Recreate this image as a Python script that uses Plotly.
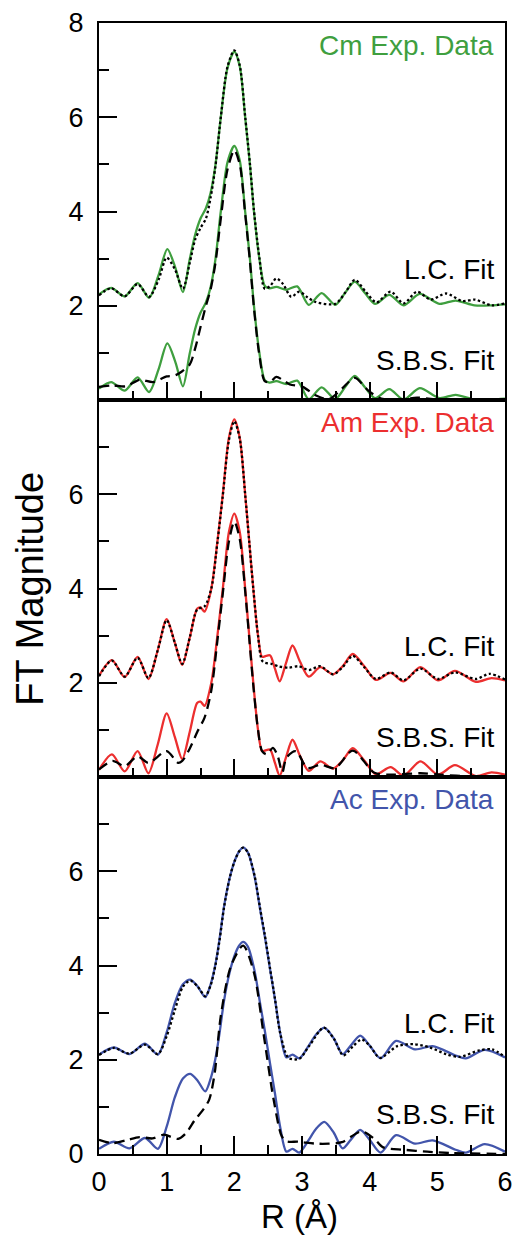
import plotly.graph_objects as go
from plotly.subplots import make_subplots

# ---------------- data (FT magnitude vs R, un-offset values) ----------------
# Cm
cm_r = [0.00, 0.18, 0.38, 0.57, 0.74, 0.88, 1.01, 1.13, 1.24, 1.34, 1.42, 1.50, 1.58, 1.65, 1.72,
        1.80, 1.90, 2.00, 2.08, 2.16, 2.23, 2.29, 2.37, 2.45, 2.52, 2.62, 2.77, 2.93, 3.10, 3.29,
        3.49, 3.64, 3.78, 3.93, 4.08, 4.29, 4.50, 4.74, 5.03, 5.27, 5.55, 5.80, 6.00]
cm_exp = [0.24, 0.38, 0.20, 0.48, 0.17, 0.65, 1.20, 0.80, 0.29, 0.98, 1.50, 1.85, 2.07, 2.40, 2.98,
          4.00, 5.05, 5.39, 5.08, 4.00, 3.00, 2.00, 1.00, 0.42, 0.37, 0.40, 0.34, 0.41, 0.02, 0.27,
          0.02, 0.28, 0.51, 0.27, 0.04, 0.23, 0.01, 0.25, 0.04, 0.11, 0.01, 0.01, 0.03]
cm_lc_r = [0.00, 0.18, 0.38, 0.57, 0.74, 0.88, 1.00, 1.12, 1.24, 1.34, 1.42, 1.50, 1.58, 1.65, 1.72,
           1.80, 1.90, 2.00, 2.08, 2.16, 2.23, 2.29, 2.37, 2.45, 2.53, 2.62, 2.72, 2.84, 2.96, 3.08,
           3.20, 3.49, 3.64, 3.78, 3.94, 4.10, 4.31, 4.50, 4.70, 4.90, 5.13, 5.37, 5.56, 5.80, 6.00]
cm_lc_fit = [0.22, 0.37, 0.20, 0.46, 0.19, 0.55, 1.02, 0.78, 0.36, 0.90, 1.40, 1.65, 1.85, 2.30, 2.95,
             4.00, 5.08, 5.42, 5.10, 4.02, 3.02, 2.02, 1.02, 0.36, 0.42, 0.58, 0.46, 0.19, 0.30, 0.18,
             0.08, 0.04, 0.28, 0.55, 0.30, 0.07, 0.30, 0.05, 0.30, 0.13, 0.26, 0.10, 0.13, 0.01, 0.05]
cm_sbs_r = [0.00, 0.20, 0.40, 0.60, 0.80, 1.00, 1.12, 1.22, 1.34, 1.42, 1.50, 1.58, 1.65, 1.72, 1.80,
            1.90, 2.00, 2.08, 2.16, 2.23, 2.29, 2.37, 2.45, 2.53, 2.62, 2.72, 2.82, 3.01, 3.20, 3.40,
            3.59, 3.78, 3.98, 4.17, 4.46, 4.70, 5.00, 5.50, 6.00]
cm_sbs_fit = [0.28, 0.31, 0.29, 0.43, 0.38, 0.50, 0.52, 0.60, 0.75, 1.09, 1.55, 2.00, 2.35, 2.90, 3.85,
              4.90, 5.30, 5.00, 3.95, 2.95, 1.95, 0.95, 0.40, 0.38, 0.49, 0.42, 0.33, 0.28, 0.10, 0.02,
              0.24, 0.47, 0.20, 0.03, 0.01, 0.05, 0.01, 0.00, 0.00]

# Am
am_r = [0.00, 0.19, 0.38, 0.57, 0.73, 0.87, 1.00, 1.12, 1.23, 1.34, 1.45, 1.50, 1.56, 1.66, 1.75,
        1.83, 1.92, 2.00, 2.08, 2.16, 2.22, 2.28, 2.35, 2.41, 2.47, 2.53, 2.60, 2.67, 2.76, 2.86,
        2.97, 3.10, 3.27, 3.46, 3.60, 3.75, 3.92, 4.09, 4.31, 4.50, 4.75, 5.01, 5.26, 5.57, 5.80, 6.00]
am_exp = [0.15, 0.48, 0.12, 0.55, 0.08, 0.70, 1.35, 0.85, 0.38, 0.95, 1.57, 1.60, 1.51, 2.00, 3.00,
          4.00, 5.20, 5.59, 5.20, 4.00, 3.00, 2.00, 1.00, 0.55, 0.57, 0.58, 0.30, 0.03, 0.40, 0.79,
          0.45, 0.13, 0.33, 0.18, 0.35, 0.61, 0.35, 0.06, 0.21, 0.03, 0.33, 0.05, 0.25, 0.02, 0.10, 0.05]
am_lc_r = [0.00, 0.19, 0.38, 0.57, 0.73, 0.87, 1.00, 1.12, 1.23, 1.34, 1.45, 1.56, 1.66, 1.75, 1.83,
           1.92, 2.00, 2.08, 2.16, 2.22, 2.28, 2.35, 2.42, 2.55, 2.65, 2.80, 2.95, 3.10, 3.27, 3.46,
           3.60, 3.75, 3.92, 4.09, 4.31, 4.50, 4.75, 5.01, 5.26, 5.57, 5.77, 6.00]
am_lc_fit = [0.14, 0.47, 0.13, 0.53, 0.10, 0.70, 1.33, 0.85, 0.40, 0.95, 1.55, 1.62, 2.00, 2.98, 3.98,
             5.15, 5.55, 5.18, 4.00, 3.00, 2.00, 1.00, 0.45, 0.40, 0.35, 0.32, 0.35, 0.27, 0.35, 0.18,
             0.33, 0.57, 0.33, 0.08, 0.22, 0.05, 0.30, 0.08, 0.22, 0.08, 0.19, 0.07]
am_sbs_r = [0.00, 0.20, 0.38, 0.57, 0.73, 1.00, 1.17, 1.23, 1.34, 1.46, 1.56, 1.66, 1.75, 1.83, 1.92,
            2.00, 2.08, 2.16, 2.22, 2.28, 2.35, 2.41, 2.48, 2.57, 2.64, 2.71, 2.77, 2.91, 3.08, 3.27,
            3.49, 3.75, 4.07, 4.31, 4.75, 5.04, 5.50, 6.00]
am_sbs_fit = [0.16, 0.34, 0.23, 0.44, 0.30, 0.55, 0.30, 0.34, 0.60, 0.98, 1.26, 1.84, 2.90, 3.90, 5.00,
              5.42, 5.05, 3.95, 2.95, 1.95, 1.00, 0.55, 0.48, 0.62, 0.45, 0.10, 0.41, 0.55, 0.19, 0.26,
              0.19, 0.56, 0.09, 0.05, 0.08, 0.05, 0.01, 0.00]

# Ac
ac_r = [0.00, 0.22, 0.45, 0.68, 0.87, 1.00, 1.12, 1.24, 1.35, 1.46, 1.57, 1.65, 1.72, 1.78, 1.85,
        1.93, 2.00, 2.07, 2.13, 2.20, 2.30, 2.38, 2.45, 2.53, 2.60, 2.68, 2.77, 2.86, 2.96, 3.10,
        3.20, 3.33, 3.47, 3.60, 3.72, 3.86, 4.00, 4.16, 4.39, 4.67, 4.93, 5.27, 5.42, 5.70, 6.00]
ac_exp = [0.11, 0.26, 0.12, 0.34, 0.11, 0.58, 1.20, 1.60, 1.70, 1.55, 1.33, 1.60, 2.02, 2.55, 3.27,
          3.85, 4.20, 4.42, 4.50, 4.40, 3.88, 3.20, 2.62, 1.90, 1.29, 0.55, 0.05, 0.11, 0.03, 0.30,
          0.52, 0.68, 0.45, 0.12, 0.30, 0.51, 0.30, 0.03, 0.40, 0.22, 0.29, 0.09, 0.03, 0.21, 0.05]
ac_lc_r = [0.00, 0.22, 0.45, 0.68, 0.87, 1.00, 1.12, 1.24, 1.35, 1.46, 1.57, 1.65, 1.72, 1.78, 1.85,
           1.93, 2.00, 2.07, 2.13, 2.20, 2.30, 2.38, 2.45, 2.53, 2.60, 2.68, 2.80, 2.96, 3.10, 3.32,
           3.47, 3.61, 3.75, 3.88, 4.00, 4.15, 4.41, 4.65, 4.89, 5.13, 5.33, 5.62, 5.81, 6.00]
ac_lc_fit = [0.10, 0.25, 0.13, 0.32, 0.12, 0.50, 1.05, 1.55, 1.68, 1.55, 1.35, 1.58, 2.00, 2.52, 3.25,
             3.85, 4.20, 4.42, 4.50, 4.40, 3.90, 3.22, 2.65, 1.92, 1.30, 0.55, 0.04, 0.02, 0.28, 0.68,
             0.45, 0.09, 0.28, 0.43, 0.30, 0.04, 0.29, 0.33, 0.26, 0.12, 0.06, 0.20, 0.22, 0.06]
ac_sbs_r = [0.00, 0.20, 0.40, 0.60, 0.79, 0.96, 1.17, 1.29, 1.42, 1.54, 1.63, 1.71, 1.80, 1.95, 2.13,
            2.29, 2.43, 2.58, 2.70, 2.77, 2.95, 3.20, 3.40, 3.59, 3.88, 4.07, 4.20, 4.51, 4.85, 5.20, 6.00]
ac_sbs_fit = [0.30, 0.23, 0.29, 0.36, 0.33, 0.41, 0.32, 0.45, 0.73, 0.94, 1.16, 1.72, 2.93, 3.99, 4.42,
              3.85, 2.57, 1.16, 0.38, 0.27, 0.26, 0.22, 0.22, 0.25, 0.48, 0.32, 0.14, 0.09, 0.05, 0.02, 0.00]

panel_labels = ["Cm Exp. Data", "Am Exp. Data", "Ac Exp. Data"]
panel_colors = ["#3f9f3f", "#ec2f2f", "#4255ab"]
fit_labels = ["L.C. Fit", "S.B.S. Fit"]
y_ticks = [[2, 4, 6, 8], [2, 4, 6], [0, 2, 4, 6]]
x_ticks = [0, 1, 2, 3, 4, 5, 6]

OFFSET = 2.0  # vertical shift of the L.C. comparison

panels = [
    (cm_r, cm_exp, cm_lc_r, cm_lc_fit, cm_sbs_r, cm_sbs_fit),
    (am_r, am_exp, am_lc_r, am_lc_fit, am_sbs_r, am_sbs_fit),
    (ac_r, ac_exp, ac_lc_r, ac_lc_fit, ac_sbs_r, ac_sbs_fit),
]

FONT = "Arial, Liberation Sans, Helvetica, sans-serif"

fig = make_subplots(rows=3, cols=1, shared_xaxes=True, vertical_spacing=0)

for i, (r, ex, lr, lf, sr, sf) in enumerate(panels, start=1):
    col = panel_colors[i - 1]
    # S.B.S. comparison (no offset)
    fig.add_trace(go.Scatter(x=r, y=ex, mode="lines", hoverinfo="skip",
                             line=dict(color=col, width=2.3, shape="spline", smoothing=0.8)),
                  row=i, col=1)
    fig.add_trace(go.Scatter(x=sr, y=sf, mode="lines", hoverinfo="skip",
                             line=dict(color="black", width=2.3, dash="10px,6px",
                                       shape="spline", smoothing=0.8)),
                  row=i, col=1)
    # L.C. comparison (offset)
    fig.add_trace(go.Scatter(x=r, y=[v + OFFSET for v in ex], mode="lines", hoverinfo="skip",
                             line=dict(color=col, width=2.3, shape="spline", smoothing=0.8)),
                  row=i, col=1)
    fig.add_trace(go.Scatter(x=lr, y=[v + OFFSET for v in lf], mode="lines", hoverinfo="skip",
                             line=dict(color="black", width=2.3, dash="2.5px,2.5px",
                                       shape="spline", smoothing=0.8)),
                  row=i, col=1)

    xa = "x" if i == 1 else f"x{i}"
    ya = "y" if i == 1 else f"y{i}"
    fig.add_annotation(x=0.977, xref=f"{xa} domain", y=7.52, yref=ya, text=panel_labels[i - 1],
                       showarrow=False, xanchor="right", yanchor="middle",
                       font=dict(family=FONT, size=28, color=col))
    fig.add_annotation(x=0.977, xref=f"{xa} domain", y=2.77, yref=ya, text=fit_labels[0],
                       showarrow=False, xanchor="right", yanchor="middle",
                       font=dict(family=FONT, size=28, color="black"))
    fig.add_annotation(x=0.977, xref=f"{xa} domain", y=0.83, yref=ya, text=fit_labels[1],
                       showarrow=False, xanchor="right", yanchor="middle",
                       font=dict(family=FONT, size=28, color="black"))

    fig.update_yaxes(row=i, col=1, range=[0, 8], tickmode="array", tickvals=y_ticks[i - 1],
                     ticks="inside", ticklen=18, tickwidth=2, tickcolor="black",
                     minor=dict(tickmode="array", tickvals=[1, 3, 5, 7], ticks="inside",
                                ticklen=10, tickwidth=2, tickcolor="black", showgrid=False),
                     showline=True, linewidth=2, linecolor="black", mirror=True,
                     showgrid=False, zeroline=False, ticklabelstandoff=8,
                     tickfont=dict(family=FONT, size=27, color="black"))
    fig.update_xaxes(row=i, col=1, range=[0, 6], tickmode="array", tickvals=x_ticks,
                     ticks="inside", ticklen=18, tickwidth=2, tickcolor="black",
                     minor=dict(tickmode="array", tickvals=[0.5, 1.5, 2.5, 3.5, 4.5, 5.5],
                                ticks="inside", ticklen=9, tickwidth=2, tickcolor="black",
                                showgrid=False),
                     showline=True, linewidth=2, linecolor="black", mirror=True,
                     showgrid=False, zeroline=False, showticklabels=(i == 3),
                     ticklabelstandoff=3,
                     tickfont=dict(family=FONT, size=27, color="black"))

fig.add_annotation(x=-0.172, xref="paper", y=0.5, yref="paper", text="FT Magnitude",
                   textangle=-90, showarrow=False, xanchor="center", yanchor="middle",
                   font=dict(family=FONT, size=38, color="black"))
fig.add_annotation(x=0.493, xref="paper", y=-0.0735, yref="paper", text="R (Å)",
                   showarrow=False, xanchor="center", yanchor="bottom",
                   font=dict(family=FONT, size=33, color="black"))

fig.update_layout(width=521, height=1238, showlegend=False,
                  margin=dict(l=99, r=8, t=22, b=84),
                  plot_bgcolor="white", paper_bgcolor="white")

fig.write_html("out.html", config={"displayModeBar": False},
               post_script="document.body.style.margin='0';document.body.style.padding='0';")
